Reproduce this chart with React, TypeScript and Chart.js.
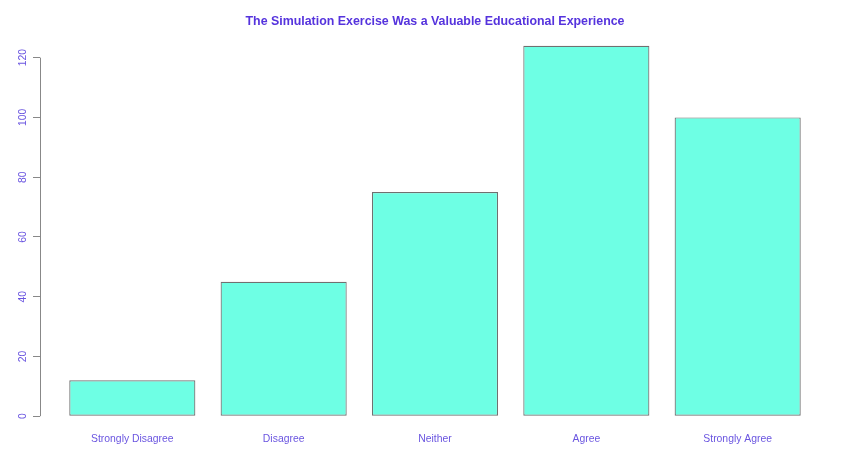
import { useEffect, useRef } from "react";
import Chart from "chart.js/auto";

const categories = ["Strongly Disagree", "Disagree", "Neither", "Agree", "Strongly Agree"];
const counts = [12, 45, 75, 124, 100];
const yTicks = [0, 20, 40, 60, 80, 100, 120];

// R barplot layout: width 1, space 0.2, axes extended by 4%
const barCenters = categories.map((_, i) => 0.2 + i * 1.2 + 0.5);
const xMin = 0.2 - 0.04 * 5.8;
const xMax = 6.0 + 0.04 * 5.8;
const yMin = -0.04 * 124;
const yMax = 124 + 0.04 * 124;

const labelColor = "#6a55e0";
const axisColor = "#888888";
const fontFamily = "'Liberation Sans', Arial, sans-serif";

const yAxisLine = {
  id: "yAxisLine",
  afterDraw(chart: any) {
    const y = chart.scales.y;
    const ctx = chart.ctx;
    ctx.save();
    ctx.strokeStyle = axisColor;
    ctx.lineWidth = 1;
    ctx.beginPath();
    ctx.moveTo(chart.chartArea.left + 0.5, y.getPixelForValue(yTicks[0]));
    ctx.lineTo(chart.chartArea.left + 0.5, y.getPixelForValue(yTicks[yTicks.length - 1]));
    ctx.stroke();
    ctx.restore();
  },
};

export default function App() {
  const chartRef = useRef<HTMLCanvasElement | null>(null);
  const chartInstanceRef = useRef<Chart | null>(null);

  useEffect(() => {
    document.body.style.margin = "0";
    if (chartInstanceRef.current) {
      chartInstanceRef.current.destroy();
    }
    const ctx = chartRef.current!.getContext("2d")!;

    chartInstanceRef.current = new Chart(ctx, {
      type: "bar",
      data: {
        datasets: [
          {
            data: counts.map((v, i) => ({ x: barCenters[i], y: v })),
            backgroundColor: "#6effe4",
            borderColor: "#707070",
            borderWidth: 1.2,
            borderSkipped: false,
            categoryPercentage: 1,
            barPercentage: 1 / 1.2,
          },
        ],
      },
      options: {
        animation: false,
        responsive: false,
        layout: { padding: { left: 0, right: 18, top: 0, bottom: 0 } },
        plugins: {
          legend: { display: false },
          tooltip: { enabled: false },
          title: {
            display: true,
            fullSize: false,
            text: "The Simulation Exercise Was a Valuable Educational Experience",
            color: "#5533dd",
            font: { family: fontFamily, size: 12.4, weight: "bold" },
            padding: { top: 14, bottom: 2 },
          },
        },
        scales: {
          x: {
            type: "linear",
            min: xMin,
            max: xMax,
            offset: false,
            grid: { display: false, drawTicks: false },
            border: { display: false },
            afterBuildTicks: (scale: any) => {
              scale.ticks = barCenters.map((c) => ({ value: c }));
            },
            afterFit: (scale: any) => {
              scale.height = 45;
            },
            ticks: {
              color: labelColor,
              font: { family: fontFamily, size: 10.4 },
              padding: 1.5,
              maxRotation: 0,
              minRotation: 0,
              autoSkip: false,
              callback: (value: any) => {
                const i = barCenters.findIndex((c) => Math.abs(c - value) < 1e-6);
                return i >= 0 ? categories[i] : "";
              },
            },
          },
          y: {
            type: "linear",
            min: yMin,
            max: yMax,
            afterBuildTicks: (scale: any) => {
              scale.ticks = yTicks.map((v) => ({ value: v }));
            },
            afterFit: (scale: any) => {
              scale.width = 40;
            },
            grid: {
              display: true,
              drawOnChartArea: false,
              drawTicks: true,
              tickLength: 7,
              tickColor: axisColor,
            },
            border: { display: false },
            ticks: {
              color: labelColor,
              font: { family: fontFamily, size: 10.4 },
              minRotation: 90,
              maxRotation: 90,
              crossAlign: "center",
              padding: 1,
            },
          },
        },
      },
      plugins: [yAxisLine],
    });

    return () => {
      if (chartInstanceRef.current) {
        chartInstanceRef.current.destroy();
      }
    };
  }, []);

  return <canvas ref={chartRef} width={848} height={476} style={{ display: "block" }} />;
}
